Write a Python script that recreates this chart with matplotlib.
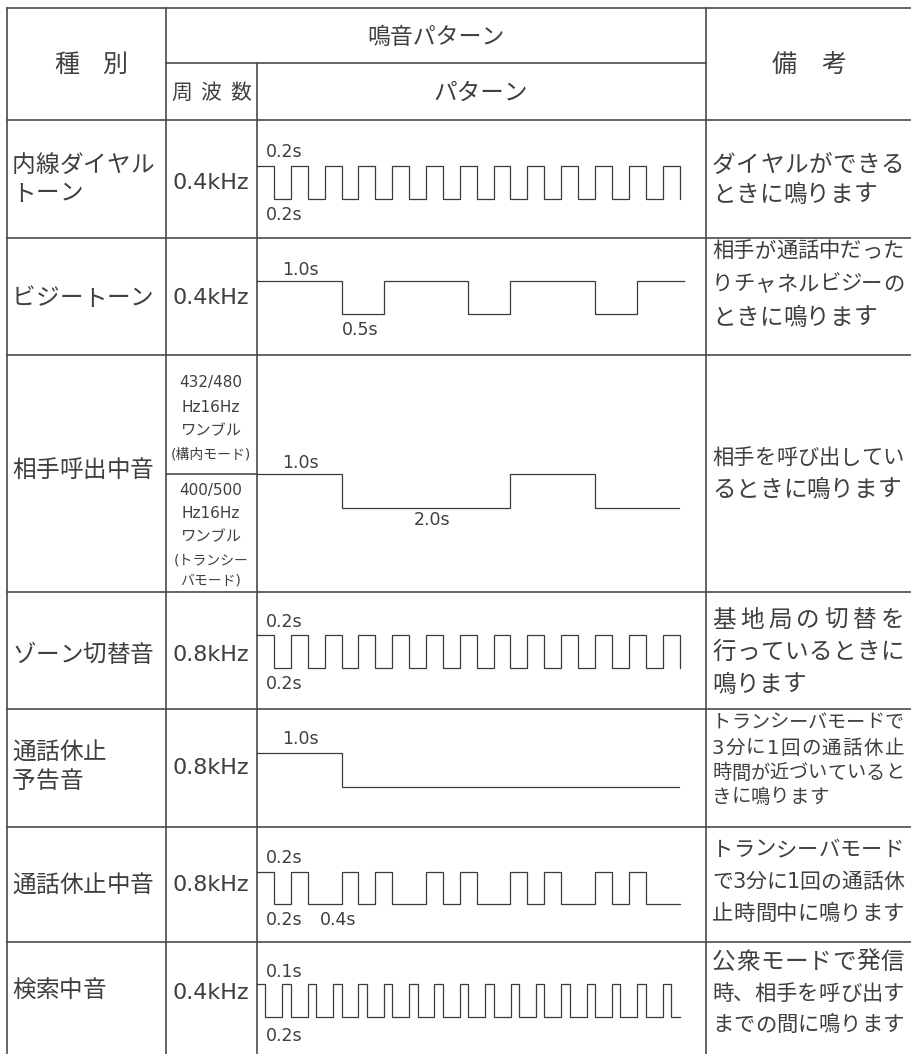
import matplotlib
matplotlib.use("Agg")
import matplotlib.pyplot as plt

plt.rcParams['font.family'] = ['DejaVu Sans', 'Noto Sans CJK JP']

W_PX, H_PX, DPI = 912, 1054, 100
TXT = '#3f3f3f'
LINE = '#4a4a4a'
PX_PER_S = 84.5   # width of one second in the pattern column

# ---- table text ----
head_kind = '種別'
head_sound = '鳴音パターン'
head_freq = '周波数'
head_pattern = 'パターン'
head_note = '備考'

kinds = [['内線ダイヤル', 'トーン'], ['ビジートーン'], ['相手呼出中音'], ['ゾーン切替音'],
         ['通話休止', '予告音'], ['通話休止中音'], ['検索中音']]
freqs = ['0.4kHz', '0.4kHz', None, '0.8kHz', '0.8kHz', '0.8kHz', '0.4kHz']
freq_ring_a = ['432/480', 'Hz16Hz', 'ワンブル', '(構内モード)']
freq_ring_b = ['400/500', 'Hz16Hz', 'ワンブル', '(トランシー', 'バモード)']
notes = [['ダイヤルができる', 'ときに鳴ります'],
         ['相手が通話中だった', 'りチャネルビジーの', 'ときに鳴ります'],
         ['相手を呼び出してい', 'るときに鳴ります'],
         ['基地局の切替を', '行っているときに', '鳴ります'],
         ['トランシーバモードで', '3分に1回の通話休止', '時間が近づいていると', 'きに鳴ります'],
         ['トランシーバモード', 'で3分に1回の通話休', '止時間中に鳴ります'],
         ['公衆モードで発信', '時、相手を呼び出す', 'までの間に鳴ります']]
note_just = [[1, 0], [1, 1, 0], [1, 0], [1, 1, 0], [1, 1, 1, 0], [1, 1, 0], [1, 1, 1]]

# ---- tone patterns: durations in seconds, first segment is "on", last 0 = closing edge ----
dial_tone = [0.2, 0.2, 0.2, 0.2, 0.2, 0.2, 0.2, 0.2, 0.2, 0.2, 0.2, 0.2, 0.2,
             0.2, 0.2, 0.2, 0.2, 0.2, 0.2, 0.2, 0.2, 0.2, 0.2, 0.2, 0.2, 0]
busy_tone = [1.0, 0.5, 1.0, 0.5, 1.0, 0.5, 0.55]
ringback = [1.0, 2.0, 1.0, 1.0]
zone_tone = [0.2, 0.2, 0.2, 0.2, 0.2, 0.2, 0.2, 0.2, 0.2, 0.2, 0.2, 0.2, 0.2,
             0.2, 0.2, 0.2, 0.2, 0.2, 0.2, 0.2, 0.2, 0.2, 0.2, 0.2, 0.2, 0]
warn_tone = [1.0, 4.0]
pause_tone = [0.2, 0.2, 0.2, 0.4, 0.2, 0.2, 0.2, 0.4, 0.2, 0.2, 0.2, 0.4,
              0.2, 0.2, 0.2, 0.4, 0.2, 0.2, 0.2, 0.4]
search_tone = [0.1, 0.2, 0.1, 0.2, 0.1, 0.2, 0.1, 0.2, 0.1, 0.2, 0.1, 0.2, 0.1, 0.2, 0.1,
               0.2, 0.1, 0.2, 0.1, 0.2, 0.1, 0.2, 0.1, 0.2, 0.1, 0.2, 0.1, 0.2, 0.1,
               0.2, 0.1, 0.2, 0.1, 0.1]
patterns = [dial_tone, busy_tone, ringback, zone_tone, warn_tone, pause_tone, search_tone]

# wave labels (text, seconds from start, above/below)
wave_labels = [[('0.2s', 0.1, 'up'), ('0.2s', 0.1, 'down')],
               [('1.0s', 0.3, 'up'), ('0.5s', 1.0, 'down')],
               [('1.0s', 0.3, 'up'), ('2.0s', 1.85, 'down')],
               [('0.2s', 0.1, 'up'), ('0.2s', 0.1, 'down')],
               [('1.0s', 0.3, 'up')],
               [('0.2s', 0.1, 'up'), ('0.2s', 0.1, 'down'), ('0.4s', 0.75, 'down')],
               [('0.1s', 0.1, 'up'), ('0.2s', 0.1, 'down')]]

# ---- layout (pixels) ----
x_left, x_c1, x_c2, x_c3 = 7, 166, 257, 706
y_top, y_mid, y_head = 8, 63, 120
row_edges = [120, 238, 355, 592, 709, 827, 942, 1054]
wave_levels = [(166, 199), (281, 314), (474, 508), (635, 668), (753, 787), (872, 904), (984, 1017)]
label_gap = [(14, 16), (11, 16), (11, 12), (13, 16), (14, 0), (14, 16), (12, 19)]
kind_y = [[165, 193], [298], [470], [655], [752, 781], [885], [990]]
freq_y = [183, 298, None, 655, 768, 885, 993]
note_y = [[165, 195], [251, 284, 318], [458, 490], [620, 652, 685],
          [722, 748, 773, 797], [850, 882, 914], [962, 994, 1025]]
note_fs = [17, 17, 17, 17, 14, 17, 17]

fig = plt.figure(figsize=(W_PX / DPI, H_PX / DPI), dpi=DPI)
ax = fig.add_axes([0, 0, 1, 1])
ax.set_xlim(0, W_PX)
ax.set_ylim(H_PX, 0)
ax.axis('off')


def put_line(s, x0, x1, y, fs, justify=False):
    px = fs * DPI / 72
    ws = [px * (0.6 if ord(c) < 128 else 1.0) for c in s]
    total = sum(ws)
    width = x1 - x0
    if total > width:
        k = width / total
        fs *= k
        ws = [w * k for w in ws]
        total = width
    gap = (width - total) / (len(s) - 1) if justify and len(s) > 1 else 0
    x = x0
    for c, w in zip(s, ws):
        ax.text(x + w / 2, y, c, ha='center', va='center', fontsize=fs, color=TXT)
        x += w + gap


# grid lines
lw = 1.2
ax.plot([x_left, W_PX], [y_top, y_top], color=LINE, lw=lw)
ax.plot([x_c1, x_c3], [y_mid, y_mid], color=LINE, lw=lw)
for y in row_edges[:-1]:
    ax.plot([x_left, W_PX], [y, y], color=LINE, lw=lw)
ax.plot([x_left, x_left], [y_top, H_PX], color=LINE, lw=lw)
ax.plot([x_c1, x_c1], [y_top, H_PX], color=LINE, lw=lw)
ax.plot([x_c3, x_c3], [y_top, H_PX], color=LINE, lw=lw)
ax.plot([x_c2, x_c2], [y_mid, H_PX], color=LINE, lw=lw)
ax.plot([x_c1, x_c2], [wave_levels[2][0], wave_levels[2][0]], color=LINE, lw=lw)

# header
put_line(head_kind, 54, 127, 65, 18, True)
ax.text(436, 37, head_sound, ha='center', va='center', fontsize=16.5, color=TXT)
put_line(head_freq, 171, 251, 93, 15, True)
ax.text(481, 93, head_pattern, ha='center', va='center', fontsize=17, color=TXT)
put_line(head_note, 772, 846, 65, 18, True)

for i in range(len(kinds)):
    for s, y in zip(kinds[i], kind_y[i]):
        put_line(s, 12, 160, y, 17)
    if freqs[i] is not None:
        ax.text(211, freq_y[i], freqs[i], ha='center', va='center', fontsize=16, color=TXT)
    for s, y, j in zip(notes[i], note_y[i], note_just[i]):
        put_line(s, 712, 904, y, note_fs[i], bool(j))

# small frequency text in the ringback row
for s, y in zip(freq_ring_a, [383, 407, 431, 455]):
    ax.text(211, y, s, ha='center', va='center', fontsize=10 if s[0] == '(' else 11,
            color=TXT)
for s, y in zip(freq_ring_b, [490, 514, 537, 560, 581]):
    ax.text(211, y, s, ha='center', va='center', fontsize=10 if s[0] in '(バ' else 11,
            color=TXT)

# waveforms, each in its own axes: x = seconds, y = on/off level
span = (W_PX - x_c2) / PX_PER_S
for i, durs in enumerate(patterns):
    hi, lo = wave_levels[i]
    wax = fig.add_axes([x_c2 / W_PX, 1 - lo / H_PX, (W_PX - x_c2) / W_PX, (lo - hi) / H_PX])
    wax.set_xlim(0, span)
    wax.set_ylim(0, 1)
    wax.axis('off')
    xs, ys = [], []
    t, level = 0.0, 1
    for d in durs:
        xs += [t, t + d]
        ys += [level, level]
        t += d
        level = 1 - level
    wax.plot(xs, ys, color='#3a3a3a', lw=0.9, clip_on=False, solid_joinstyle='miter')
    up, down = label_gap[i]
    for s, ts, pos in wave_labels[i]:
        x = x_c2 + ts * PX_PER_S
        if pos == 'up':
            ax.text(x, hi - up, s, ha='left', va='center', fontsize=12.5, color=TXT)
        else:
            ax.text(x, lo + down, s, ha='left', va='center', fontsize=12.5, color=TXT)

fig.savefig('out.png', dpi=DPI, facecolor='white')
